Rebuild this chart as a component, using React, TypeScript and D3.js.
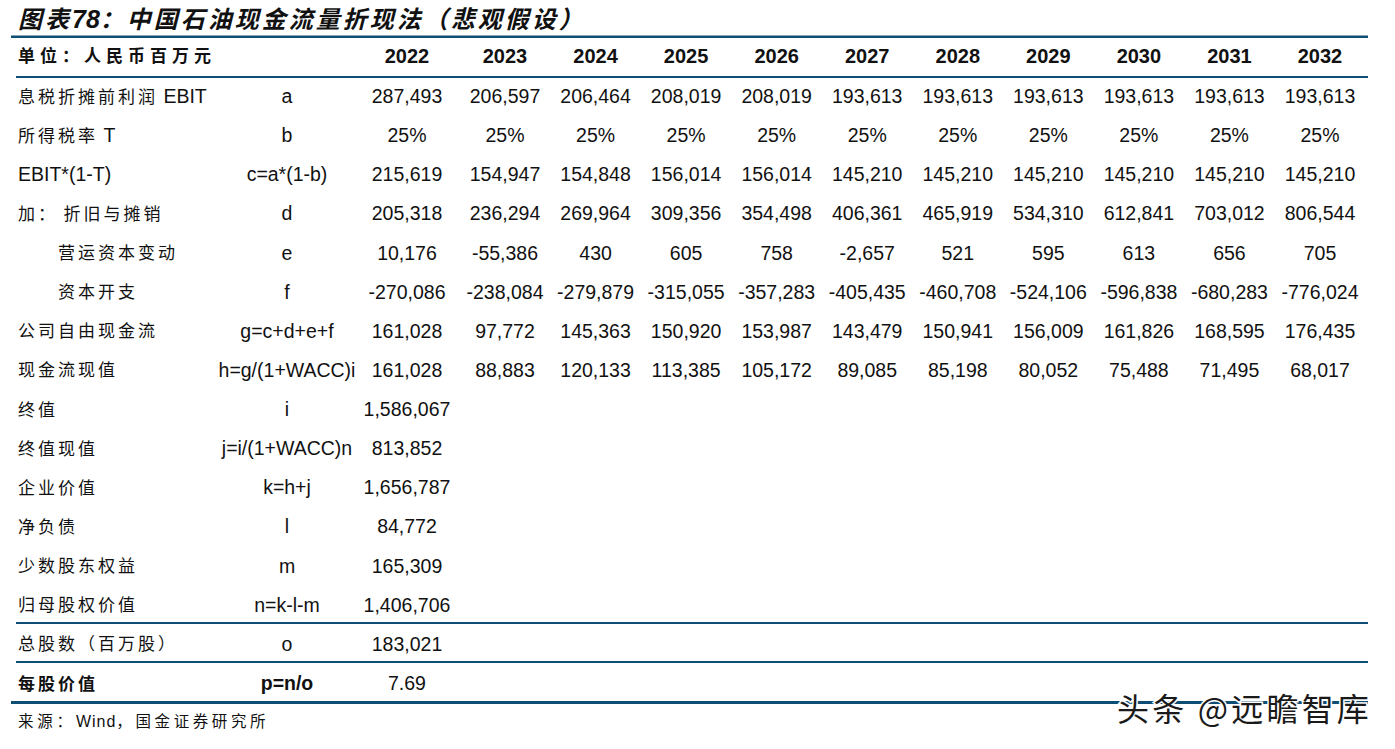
import React from "react";
import * as d3 from "d3";

const years = ["2022", "2023", "2024", "2025", "2026", "2027", "2028", "2029", "2030", "2031", "2032"];

const rowLabels = [
  "息税折摊前利润 EBIT",
  "所得税率 T",
  "EBIT*(1-T)",
  "加：  折旧与摊销",
  "营运资本变动",
  "资本开支",
  "公司自由现金流",
  "现金流现值",
  "终值",
  "终值现值",
  "企业价值",
  "净负债",
  "少数股东权益",
  "归母股权价值",
  "总股数（百万股）",
  "每股价值",
];
const rowIndent = [0, 0, 0, 0, 1, 1, 0, 0, 0, 0, 0, 0, 0, 0, 0, 0];
const formulas = [
  "a", "b", "c=a*(1-b)", "d", "e", "f", "g=c+d+e+f", "h=g/(1+WACC)i",
  "i", "j=i/(1+WACC)n", "k=h+j", "l", "m", "n=k-l-m", "o", "p=n/o",
];

const ebit = [287493, 206597, 206464, 208019, 208019, 193613, 193613, 193613, 193613, 193613, 193613];
const taxRate = [25, 25, 25, 25, 25, 25, 25, 25, 25, 25, 25];
const ebitAfterTax = [215619, 154947, 154848, 156014, 156014, 145210, 145210, 145210, 145210, 145210, 145210];
const depreciation = [205318, 236294, 269964, 309356, 354498, 406361, 465919, 534310, 612841, 703012, 806544];
const workingCapital = [10176, -55386, 430, 605, 758, -2657, 521, 595, 613, 656, 705];
const capex = [-270086, -238084, -279879, -315055, -357283, -405435, -460708, -524106, -596838, -680283, -776024];
const fcff = [161028, 97772, 145363, 150920, 153987, 143479, 150941, 156009, 161826, 168595, 176435];
const presentValue = [161028, 88883, 120133, 113385, 105172, 89085, 85198, 80052, 75488, 71495, 68017];
const terminalValue = [1586067];
const terminalPV = [813852];
const enterpriseValue = [1656787];
const netDebt = [84772];
const minority = [165309];
const equityValue = [1406706];
const shares = [183021];
const perShare = [7.69];

const locale = d3.formatLocale({
  decimal: ".",
  thousands: ",",
  grouping: [3],
  currency: ["", ""],
  minus: "-",
});
const fmt = locale.format(",");
const fmt2 = locale.format(".2f");
const rowValues: string[][] = [
  ebit.map(fmt),
  taxRate.map((v) => v + "%"),
  ebitAfterTax.map(fmt),
  depreciation.map(fmt),
  workingCapital.map(fmt),
  capex.map(fmt),
  fcff.map(fmt),
  presentValue.map(fmt),
  terminalValue.map(fmt),
  terminalPV.map(fmt),
  enterpriseValue.map(fmt),
  netDebt.map(fmt),
  minority.map(fmt),
  equityValue.map(fmt),
  shares.map(fmt),
  perShare.map(fmt2),
];

const LINE = "#0f4e74";
const CJK = "'Noto Sans CJK SC', sans-serif";
const LAT = "'Liberation Sans', Arial, 'Noto Sans CJK SC', sans-serif";
const CJK_RE = /[\u3000-\u303f\u4e00-\u9fff\uff00-\uffef]/;

function Mixed({ text, x, y, size, spacing, bold }: any) {
  const parts = text.match(/[\u3000-\u303f\u4e00-\u9fff\uff00-\uffef]+|[^\u3000-\u303f\u4e00-\u9fff\uff00-\uffef]+/g) || [];
  return (
    <text x={x} y={y} fontWeight={bold ? "bold" : "normal"} fill="#111">
      {parts.map((p: string, i: number) => {
        const isCjk = CJK_RE.test(p);
        return (
          <tspan
            key={i}
            fontFamily={isCjk ? CJK : LAT}
            fontSize={isCjk ? size : 19.5}
            letterSpacing={isCjk ? spacing : 0}
          >
            {p}
          </tspan>
        );
      })}
    </text>
  );
}

export default function App() {
  const W = 1395;
  const H = 749;
  const colX = d3.scalePoint<string>().domain(years.slice(1)).range([505, 1320]);
  const xOf = (i: number) => (i === 0 ? 407 : (colX(years[i]) as number));
  const rowY = d3.scaleLinear().domain([0, rowLabels.length - 1]).range([96, 683]);
  const formulaX = 287;
  const left = 11;
  const right = 1368;

  return (
    <svg width={W} height={H} style={{ position: "absolute", left: 0, top: 0, background: "#fff" }}>
      <rect x={0} y={0} width={W} height={H} fill="#fff" />
      {/* title */}
      <text x={18} y={28} fontSize={24} fontWeight="bold" fontStyle="italic" fill="#111" letterSpacing={3}>
        <tspan fontFamily={CJK}>图表</tspan>
        <tspan fontFamily={LAT} fontSize={25} letterSpacing={0}>78</tspan>
        <tspan fontFamily={CJK}>：中国石油现金流量折现法（悲观假设）</tspan>
      </text>

      {/* lines */}
      <line x1={left} x2={right} y1={36.8} y2={36.8} stroke={LINE} strokeWidth={2.6} />
      <line x1={16} x2={right} y1={77} y2={77} stroke={LINE} strokeWidth={2.2} />
      <line x1={16} x2={right} y1={623} y2={623} stroke={LINE} strokeWidth={2.2} />
      <line x1={16} x2={right} y1={662} y2={662} stroke={LINE} strokeWidth={2.2} />
      <line x1={left} x2={right} y1={702.5} y2={702.5} stroke={LINE} strokeWidth={3} />

      {/* header */}
      <text x={18} y={62} fontFamily={CJK} fontSize={17} fontWeight="bold" letterSpacing={5} fill="#111">
        单位：人民币百万元
      </text>
      {years.map((yr, i) => (
        <text key={yr} x={xOf(i)} y={63} textAnchor="middle" fontFamily={LAT} fontSize={20} fontWeight="bold" fill="#111">
          {yr}
        </text>
      ))}

      {/* rows */}
      {rowLabels.map((lab, r) => {
        const y = rowY(r);
        const bold = r === rowLabels.length - 1;
        return (
          <g key={r}>
            <Mixed text={lab} x={rowIndent[r] ? 58 : 18} y={y + 6.5} size={17} spacing={3} bold={bold} />
            <text x={formulaX} y={y + 7} textAnchor="middle" fontFamily={LAT} fontSize={19.5} fontWeight={bold ? "bold" : "normal"} fill="#111">
              {formulas[r]}
            </text>
            {rowValues[r].map((v, c) => (
              <text key={c} x={xOf(c)} y={y + 7} textAnchor="middle" fontFamily={LAT} fontSize={19.5} fill="#111">
                {v}
              </text>
            ))}
          </g>
        );
      })}

      {/* source */}
      <text x={18} y={727} fontSize={15.5} fill="#111">
        <tspan fontFamily={CJK} letterSpacing={3.8}>来源：</tspan>
        <tspan fontFamily={LAT} fontSize={16} letterSpacing={1}>Wind</tspan>
        <tspan fontFamily={CJK} letterSpacing={3.6}>，国金证券研究所</tspan>
      </text>

      {/* watermark */}
      <text
        x={1117}
        y={721}
        fontFamily={CJK}
        fontSize={32}
        letterSpacing={3.2}
        fill="#1a1a1a"
        stroke="#fff"
        strokeWidth={3}
        paintOrder="stroke"
      >
        头条 @远瞻智库
      </text>
    </svg>
  );
}
